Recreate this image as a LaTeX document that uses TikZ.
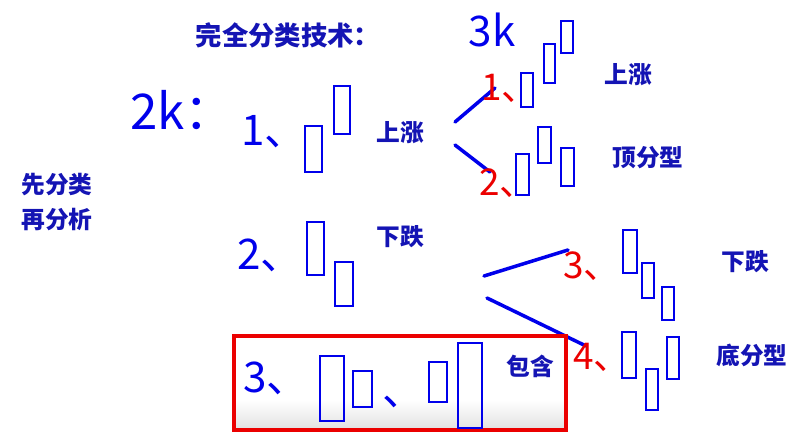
\documentclass[tikz,border=0pt]{standalone}
\usepackage{fontspec}
\newfontfamily\cjk{Noto Sans CJK SC}
\definecolor{lblblue}{RGB}{20,20,180}
\definecolor{penblue}{RGB}{0,0,235}
\definecolor{penred}{RGB}{235,0,0}
\tikzset{
  lbl/.style={text=lblblue,font=\cjk\bfseries\fontsize{13.5}{16}\selectfont},
  hand/.style={text=penblue,font=\cjk\fontsize{24}{28}\selectfont},
  handred/.style={hand,text=penred,font=\cjk\fontsize{21}{24}\selectfont},
  candle/.style={draw=penblue,line width=1.4pt},
  stroke/.style={draw=penblue,line width=2pt,line cap=round},
}
\begin{document}
\begin{tikzpicture}[x=0.02cm,y=-0.02cm]
 \useasboundingbox (0,0) rectangle (800,436);
 % titles and side labels
 \node[lbl,font=\cjk\bfseries\fontsize{15}{18}\selectfont] (title) at (288,35) {完全分类技术：};
 \node[hand] (k3) at (492,30) {3k};
 \node[hand,font=\cjk\fontsize{28}{32}\selectfont] (k2) at (182,110) {2k：};
 \node[lbl] (first) at (57,185) {先分类};
 \node[lbl] (then) at (57,220) {再分析};
 % 2k rising
 \node[hand] (n1) at (274,132) {1、};
 \draw[candle] (305,126) rectangle (322,172); \draw[candle] (334,86) rectangle (350,134);
 \node[lbl] (up) at (400,133) {上涨};
 \coordinate (ua) at (455,122); \coordinate (ub) at (495,88);
 \coordinate (uc) at (455,145); \coordinate (ud) at (490,172);
 \draw[stroke] (ua) -- (ub); \draw[stroke] (uc) -- (ud);
 % 3k after rise
 \node[handred] (r1) at (510,88) {1、};
 \draw[candle] (521,73) rectangle (533,107); \draw[candle] (544,44) rectangle (555,83);
 \draw[candle] (561,21) rectangle (573,53);
 \node[lbl] (up3) at (628,75) {上涨};
 \node[handred] (r2) at (508,183) {2、};
 \draw[candle] (516,154) rectangle (529,195); \draw[candle] (538,127) rectangle (551,163);
 \draw[candle] (561,148) rectangle (574,186);
 \node[lbl] (top) at (648,158) {顶分型};
 % 2k falling
 \node[hand] (n2) at (270,255) {2、};
 \draw[candle] (307,222) rectangle (324,275); \draw[candle] (335,262) rectangle (353,306);
 \node[lbl] (down) at (400,237) {下跌};
 \coordinate (da) at (484,276); \coordinate (db) at (568,250);
 \coordinate (dc) at (487,298); \coordinate (dd) at (586,346);
 \draw[stroke] (da) -- (db); \draw[stroke] (dc) -- (dd);
 % 3k after fall
 \node[handred] (r3) at (592,266) {3、};
 \draw[candle] (623,230) rectangle (637,273); \draw[candle] (642,263) rectangle (654,298);
 \draw[candle] (662,287) rectangle (674,320);
 \node[lbl] (down3) at (745,262) {下跌};
 \node[handred] (r4) at (602,357) {4、};
 \draw[candle] (622,332) rectangle (636,378); \draw[candle] (646,369) rectangle (658,410);
 \draw[candle] (667,337) rectangle (679,379);
 \node[lbl] (bottom) at (752,355) {底分型};
 % inclusion box
 \fill[top color=white,bottom color=black!12] (234,400) rectangle (566,430);
 \draw[draw=penred,line width=2.2pt] (234,336) rectangle (566,430);
 \node[hand] (n3) at (276,378) {3、};
 \draw[candle] (320,356) rectangle (344,421); \draw[candle] (353,371) rectangle (372,407);
 \node[hand] (sep) at (404,402) {、};
 \draw[candle] (429,362) rectangle (447,402); \draw[candle] (458,343) rectangle (482,428);
 \node[lbl] (incl) at (530,366) {包含};
\end{tikzpicture}
\end{document}
